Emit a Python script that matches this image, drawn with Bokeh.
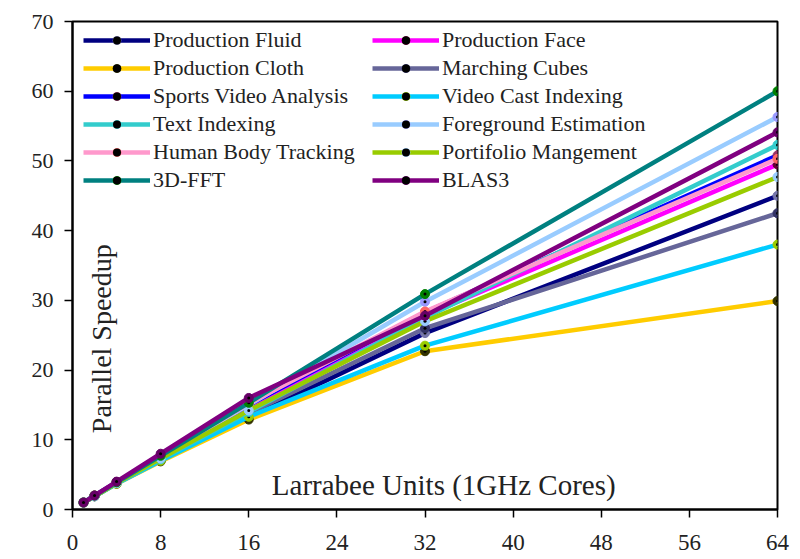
import math
from bokeh.plotting import figure
from bokeh.models import Legend, LegendItem, Label, FixedTicker
from bokeh.embed import file_html
from bokeh.resources import INLINE

cores = [1, 2, 4, 8, 16, 32, 64]

names = [
    "Production Fluid", "Production Face",
    "Production Cloth", "Marching Cubes",
    "Sports Video Analysis", "Video Cast Indexing",
    "Text Indexing", "Foreground Estimation",
    "Human Body Tracking", "Portifolio Mangement",
    "3D-FFT", "BLAS3",
]

production_fluid = [1, 1.9, 3.8, 7.0, 13.2, 25.3, 45.0]
production_face = [1, 2.0, 3.9, 7.6, 14.8, 27.8, 49.5]
production_cloth = [1, 1.9, 3.7, 6.9, 12.9, 22.7, 29.9]
marching_cubes = [1, 1.9, 3.8, 7.2, 13.8, 26.0, 42.5]
sports_video = [1, 2.0, 3.9, 7.7, 15.0, 28.3, 50.8]
video_cast = [1, 1.9, 3.7, 7.0, 13.3, 23.5, 38.0]
text_indexing = [1, 1.9, 3.8, 7.2, 14.0, 27.5, 52.3]
foreground = [1, 2.0, 3.9, 7.6, 15.0, 29.8, 56.3]
human_body = [1, 2.0, 3.9, 7.7, 15.2, 28.4, 50.3]
portfolio = [1, 1.9, 3.8, 7.3, 14.2, 27.0, 47.7]
fft3d = [1, 2.0, 3.9, 7.7, 15.3, 30.9, 60.0]
blas3 = [1, 2.0, 4.0, 8.0, 16.0, 27.8, 54.1]

series = [production_fluid, production_face, production_cloth, marching_cubes,
          sports_video, video_cast, text_indexing, foreground,
          human_body, portfolio, fft3d, blas3]

line_colors = ["#000080", "#FF00FF", "#FFCC00", "#666699",
               "#0000FF", "#00CCFF", "#33CCCC", "#99CCFF",
               "#FF99CC", "#99CC00", "#008080", "#800080"]
marker_colors = ["#7777AA", "#660033", "#333300", "#333366",
                 "#993366", "#99CC00", "#33CCCC", "#9999FF",
                 "#FF6666", "#99CCFF", "#008000", "#660066"]

x_ticks = [0, 8, 16, 24, 32, 40, 48, 56, 64]
y_ticks = [0, 10, 20, 30, 40, 50, 60, 70]

FONT = "Liberation Serif"

p = figure(width=800, height=559, x_range=(0, 64), y_range=(0, 70),
           output_backend="svg", toolbar_location=None,
           min_border_left=72, min_border_right=23, min_border_top=21,
           min_border_bottom=50)

p.outline_line_color = "black"
p.outline_line_width = 2
p.outline_line_alpha = 1
p.xgrid.visible = False
p.ygrid.visible = False

p.xaxis.ticker = FixedTicker(ticks=x_ticks)
p.yaxis.ticker = FixedTicker(ticks=y_ticks)
for ax in (p.xaxis, p.yaxis):
    ax.axis_line_color = "black"
    ax.axis_line_width = 2
    ax.major_tick_line_color = "black"
    ax.major_tick_line_width = 1.5
    ax.major_tick_out = 8
    ax.major_tick_in = 0
    ax.minor_tick_line_color = None
    ax.major_label_text_font = FONT
    ax.major_label_text_color = "#222222"
p.xaxis.major_label_text_font_size = "23px"
p.yaxis.major_label_text_font_size = "22px"
p.xaxis.major_label_standoff = 17
p.yaxis.major_label_standoff = 11

items = []
for name, ys, lc, mc in zip(names, series, line_colors, marker_colors):
    ln = p.line(cores, ys, line_color=lc, line_width=4.5, line_join="round")
    mk = p.scatter(cores, ys, size=9, fill_color=mc, line_color=mc, line_width=1)
    dt = p.scatter(cores, ys, size=3, fill_color="black", line_color=None)
    items.append(LegendItem(label=name, renderers=[ln, mk, dt]))

def make_legend(its, loc):
    lg = Legend(items=its, location=loc)
    lg.label_text_font = FONT
    lg.label_text_font_size = "22px"
    lg.label_text_color = "#222222"
    lg.glyph_width = 67
    lg.glyph_height = 20
    lg.label_height = 20
    lg.label_standoff = 3
    lg.spacing = 2
    lg.padding = 0
    lg.margin = 0
    lg.border_line_alpha = 0
    lg.background_fill_alpha = 0
    return lg

left_items = items[0::2]
right_items = items[1::2]
p.add_layout(make_legend(left_items, (11, 316)))
p.add_layout(make_legend(right_items, (300, 316)))

p.add_layout(Label(x=2.6, y=24.5, text="Parallel Speedup", angle=math.pi / 2,
                   text_align="center", text_baseline="middle",
                   text_font=FONT, text_font_size="28px", text_color="#222222"))
p.add_layout(Label(x=33.7, y=3.45, text="Larrabee Units (1GHz Cores)",
                   text_align="center", text_baseline="middle",
                   text_font=FONT, text_font_size="29px", text_color="#222222"))

open("out.html", "w").write(file_html(p, INLINE))
